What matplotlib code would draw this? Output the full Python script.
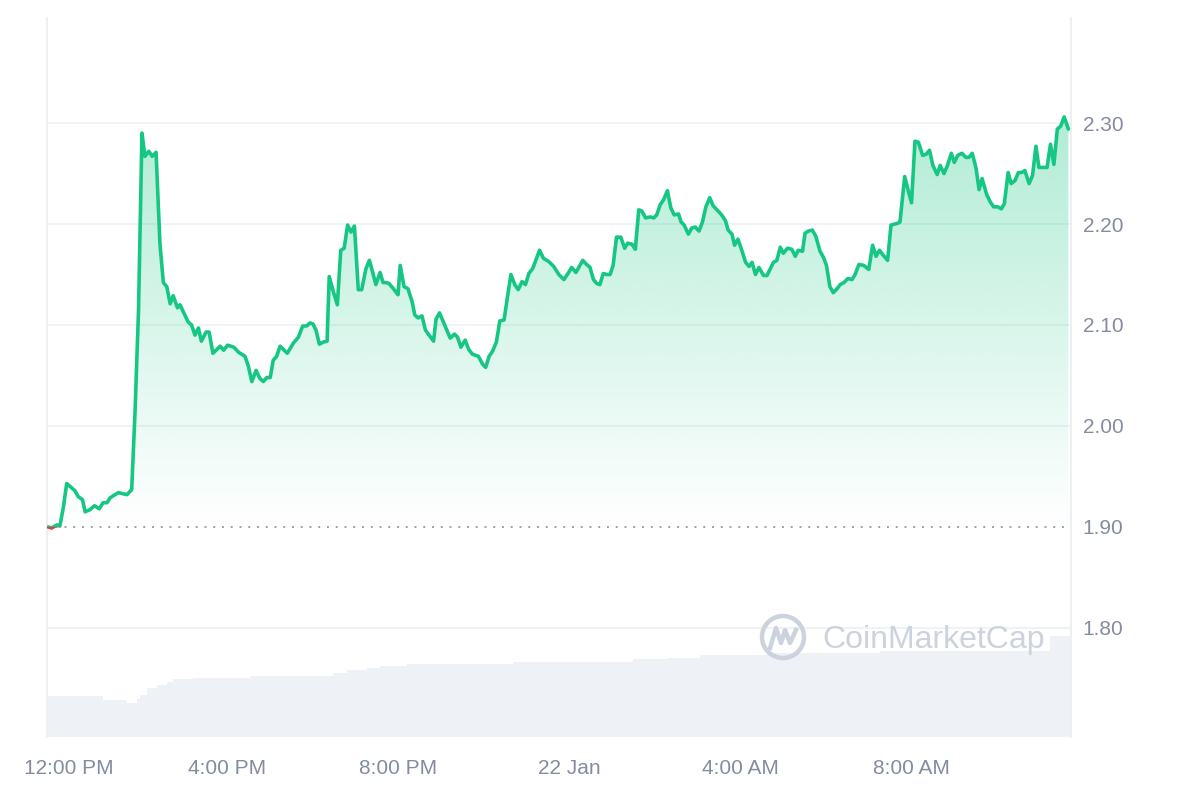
import matplotlib
matplotlib.use("Agg")
import matplotlib.pyplot as plt
import numpy as np
from matplotlib.patches import Rectangle, Circle
from matplotlib.lines import Line2D
from matplotlib.transforms import ScaledTranslation

plt.rcParams['font.family'] = ['Liberation Sans', 'DejaVu Sans']

# hours relative to 12:00 PM (21 Jan)
hours = [-0.18, -0.10, 0.02, 0.09, 0.17, 0.25, 0.44, 0.52, 0.62, 0.68,
         0.79, 0.90, 1.01, 1.10, 1.19, 1.27, 1.38, 1.46, 1.55, 1.66,
         1.77, 1.85, 1.93, 2.01, 2.08, 2.17, 2.25, 2.34, 2.43, 2.51,
         2.59, 2.67, 2.74, 2.84, 2.90, 3.09, 3.17, 3.25, 3.33, 3.40,
         3.51, 3.58, 3.67, 3.84, 3.92, 4.01, 4.16, 4.27, 4.42, 4.50,
         4.58, 4.68, 4.77, 4.85, 4.93, 5.01, 5.08, 5.16, 5.24, 5.41,
         5.55, 5.67, 5.77, 5.86, 5.94, 6.01, 6.08, 6.16, 6.25, 6.34,
         6.39, 6.50, 6.58, 6.66, 6.74, 6.82, 6.90, 6.98, 7.07, 7.15,
         7.25, 7.33, 7.42, 7.48, 7.58, 7.65, 7.73, 7.79, 7.89, 8.00,
         8.05, 8.14, 8.23, 8.33, 8.39, 8.47, 8.56, 8.64, 8.71, 8.83,
         8.89, 8.97, 9.06, 9.22, 9.32, 9.39, 9.47, 9.57, 9.65, 9.74,
         9.88, 9.98, 10.05, 10.13, 10.21, 10.30, 10.38, 10.48, 10.56, 10.64,
         10.73, 10.81, 10.90, 10.98, 11.06, 11.15, 11.31, 11.40, 11.52, 11.64,
         11.76, 11.88, 11.99, 12.06, 12.16, 12.32, 12.41, 12.49, 12.57, 12.65,
         12.72, 12.80, 12.88, 12.96, 13.03, 13.11, 13.21, 13.30, 13.37, 13.47,
         13.55, 13.63, 13.70, 13.79, 13.90, 13.98, 14.05, 14.13, 14.21, 14.30,
         14.38, 14.46, 14.56, 14.62, 14.69, 14.79, 14.87, 14.95, 15.04, 15.12,
         15.20, 15.29, 15.37, 15.48, 15.57, 15.66, 15.72, 15.81, 15.87, 15.95,
         16.04, 16.13, 16.21, 16.28, 16.36, 16.44, 16.55, 16.63, 16.78, 16.86,
         16.94, 17.01, 17.11, 17.21, 17.29, 17.36, 17.46, 17.52, 17.60, 17.69,
         17.77, 17.87, 17.95, 18.02, 18.10, 18.18, 18.27, 18.34, 18.43, 18.52,
         18.62, 18.69, 18.78, 18.89, 19.01, 19.10, 19.18, 19.26, 19.35, 19.45,
         19.53, 19.63, 19.70, 19.74, 19.85, 19.94, 20.01, 20.09, 20.17, 20.27,
         20.35, 20.43, 20.51, 20.61, 20.68, 20.77, 20.85, 20.94, 21.01, 21.09,
         21.19, 21.28, 21.35, 21.43, 21.52, 21.59, 21.66, 21.77, 21.85, 21.93,
         22.03, 22.11, 22.18, 22.27, 22.34, 22.43, 22.51, 22.59, 22.66, 22.76,
         22.84, 22.92, 22.99, 23.09, 23.18, 23.26, 23.34, 23.42, 23.50, 23.58,
         23.68]

price = [1.900, 1.899, 1.902, 1.901, 1.919, 1.943, 1.936, 1.930, 1.927, 1.915,
         1.917, 1.921, 1.918, 1.924, 1.924, 1.929, 1.932, 1.934, 1.933, 1.932,
         1.937, 2.016, 2.115, 2.290, 2.267, 2.272, 2.267, 2.271, 2.181, 2.142,
         2.138, 2.121, 2.129, 2.117, 2.120, 2.103, 2.100, 2.090, 2.097, 2.084,
         2.093, 2.093, 2.072, 2.079, 2.075, 2.080, 2.078, 2.073, 2.069, 2.059,
         2.044, 2.055, 2.047, 2.044, 2.048, 2.048, 2.065, 2.069, 2.079, 2.072,
         2.082, 2.088, 2.099, 2.099, 2.102, 2.101, 2.095, 2.081, 2.083, 2.084,
         2.148, 2.131, 2.120, 2.174, 2.176, 2.199, 2.192, 2.198, 2.135, 2.135,
         2.156, 2.164, 2.150, 2.140, 2.152, 2.142, 2.142, 2.141, 2.136, 2.130,
         2.159, 2.138, 2.136, 2.123, 2.110, 2.107, 2.109, 2.095, 2.091, 2.084,
         2.106, 2.112, 2.103, 2.087, 2.091, 2.088, 2.078, 2.085, 2.076, 2.071,
         2.069, 2.061, 2.058, 2.069, 2.074, 2.083, 2.104, 2.105, 2.128, 2.150,
         2.140, 2.135, 2.143, 2.140, 2.151, 2.156, 2.174, 2.166, 2.163, 2.158,
         2.150, 2.145, 2.152, 2.157, 2.152, 2.164, 2.160, 2.157, 2.145, 2.141,
         2.140, 2.151, 2.150, 2.150, 2.159, 2.187, 2.187, 2.176, 2.181, 2.180,
         2.175, 2.214, 2.213, 2.206, 2.207, 2.206, 2.209, 2.219, 2.224, 2.233,
         2.216, 2.209, 2.210, 2.202, 2.199, 2.190, 2.196, 2.197, 2.193, 2.202,
         2.217, 2.226, 2.218, 2.213, 2.209, 2.203, 2.194, 2.190, 2.179, 2.185,
         2.174, 2.162, 2.158, 2.162, 2.150, 2.157, 2.149, 2.149, 2.162, 2.164,
         2.177, 2.171, 2.176, 2.175, 2.168, 2.174, 2.173, 2.191, 2.193, 2.194,
         2.188, 2.173, 2.167, 2.159, 2.138, 2.132, 2.136, 2.140, 2.142, 2.146,
         2.145, 2.150, 2.160, 2.159, 2.155, 2.179, 2.168, 2.174, 2.169, 2.164,
         2.199, 2.200, 2.201, 2.202, 2.247, 2.232, 2.221, 2.282, 2.281, 2.268,
         2.269, 2.273, 2.258, 2.249, 2.258, 2.250, 2.258, 2.270, 2.261, 2.268,
         2.270, 2.266, 2.266, 2.270, 2.255, 2.234, 2.245, 2.229, 2.222, 2.217,
         2.217, 2.215, 2.220, 2.251, 2.240, 2.243, 2.251, 2.251, 2.253, 2.240,
         2.248, 2.277, 2.256, 2.256, 2.256, 2.279, 2.259, 2.294, 2.297, 2.306,
         2.294]

# volume (relative units), step levels starting at each hour
vol_start = [-0.21, 1.10, 1.66, 1.90, 1.97, 2.13, 2.36, 2.60, 2.73, 3.21,
             4.54, 6.48, 6.81, 7.28, 7.58, 8.21, 10.69, 13.50, 14.30, 15.06,
             16.64, 19.28, 23.26]
vol_level = [41, 37, 34, 38, 42, 49, 52, 55, 58, 59,
             61, 64, 67, 69, 71, 73, 75, 77, 78, 81,
             83, 85, 100]
x_start, x_end = -0.21, 23.74

tick_hours = [0, 4, 8, 12, 16, 20]
tick_labels = ['12:00 PM', '4:00 PM', '8:00 PM', '22 Jan', '4:00 AM', '8:00 AM']
y_ticks = [1.80, 1.90, 2.00, 2.10, 2.20, 2.30]

baseline = price[0]
green = '#16c784'
red = '#ea3943'
grid_c = '#eff2f5'
text_c = '#858ca2'

fig = plt.figure(figsize=(12, 8), dpi=100)
ax = fig.add_axes([0.0392, 0.07875, 0.8533, 0.89875])
ax2 = ax.twinx()
ax.set_zorder(ax2.get_zorder() + 1)
ax.patch.set_visible(False)

x0, x1 = x_start, x_end
y0, y1 = 1.692, 2.404
ax.set_xlim(x0, x1)
ax.set_ylim(y0, y1)

# volume bars
widths = np.diff(vol_start + [x_end])
ax2.bar(vol_start, vol_level, width=widths, align='edge', color='#eef1f5',
        edgecolor='none')
ax2.set_ylim(0, max(vol_level) / 0.14)
ax2.set_yticks([])
for s in ax2.spines.values():
    s.set_visible(False)

# grid
for yt in y_ticks:
    if abs(yt - baseline) > 1e-6:
        ax.axhline(yt, color=grid_c, lw=1.3, zorder=0)

# gradient fill under price line
h = np.array(hours)
p = np.array(price)
poly = ax.fill_between(h, p, baseline, facecolor='none', edgecolor='none')
ny = 300
alpha = np.linspace(0.34, 0.0, ny)
grad = np.zeros((ny, 2, 4))
grad[..., 0] = 22 / 255
grad[..., 1] = 199 / 255
grad[..., 2] = 132 / 255
grad[..., 3] = alpha[:, None]
im = ax.imshow(grad, extent=[x0, x1, baseline, 2.31], aspect='auto',
               origin='upper', zorder=1, interpolation='bilinear')
im.set_clip_path(poly.get_paths()[0], ax.transData)

# baseline dotted
ax.axhline(baseline, color='#9aa1ae', lw=1.4, ls=(0, (1, 3.5)), zorder=2)

# price line: green above baseline, red below
ln_g, = ax.plot(h, p, color=green, lw=2.6, solid_joinstyle='round',
                solid_capstyle='round', zorder=3)
ln_g.set_clip_path(Rectangle((x0, baseline), x1 - x0, 5, transform=ax.transData))
ln_r, = ax.plot(h, p, color=red, lw=2.6, solid_joinstyle='round', zorder=3)
ln_r.set_clip_path(Rectangle((x0, baseline - 5), x1 - x0, 5, transform=ax.transData))

# axes styling
ax.set_xticks(tick_hours)
ax.set_xticklabels(tick_labels)
ax.set_yticks(y_ticks)
ax.set_yticklabels(['%.2f' % v for v in y_ticks])
ax.yaxis.tick_right()
ax.tick_params(axis='both', length=0, labelsize=15, colors=text_c)
ax.tick_params(axis='y', pad=8.5)
ax.tick_params(axis='x', pad=16)
# first label pushed a bit right, like the original
lbl = ax.xaxis.get_major_ticks()[0].label1
lbl.set_transform(lbl.get_transform() + ScaledTranslation(0.13, 0, fig.dpi_scale_trans))
for side in ['top', 'bottom']:
    ax.spines[side].set_visible(False)
for side in ['left', 'right']:
    ax.spines[side].set_color('#eceff3')
    ax.spines[side].set_linewidth(1.5)

# watermark
wm_c = '#ccd2de'
fig.patches.append(Circle((783, 163), 21, transform=None, fill=False,
                          edgecolor=wm_c, lw=3.2, zorder=5))
fig.lines.append(Line2D([770, 776, 781, 785, 790, 796],
                        [152, 172, 157, 170, 157, 170], transform=None,
                        color=wm_c, lw=3.2, solid_joinstyle='round', zorder=5))
fig.text(822 / 1200, 1 - 640 / 800, 'CoinMarketCap', fontsize=23,
         color=wm_c, va='center', ha='left', zorder=5)

fig.savefig('out.png', dpi=100)
